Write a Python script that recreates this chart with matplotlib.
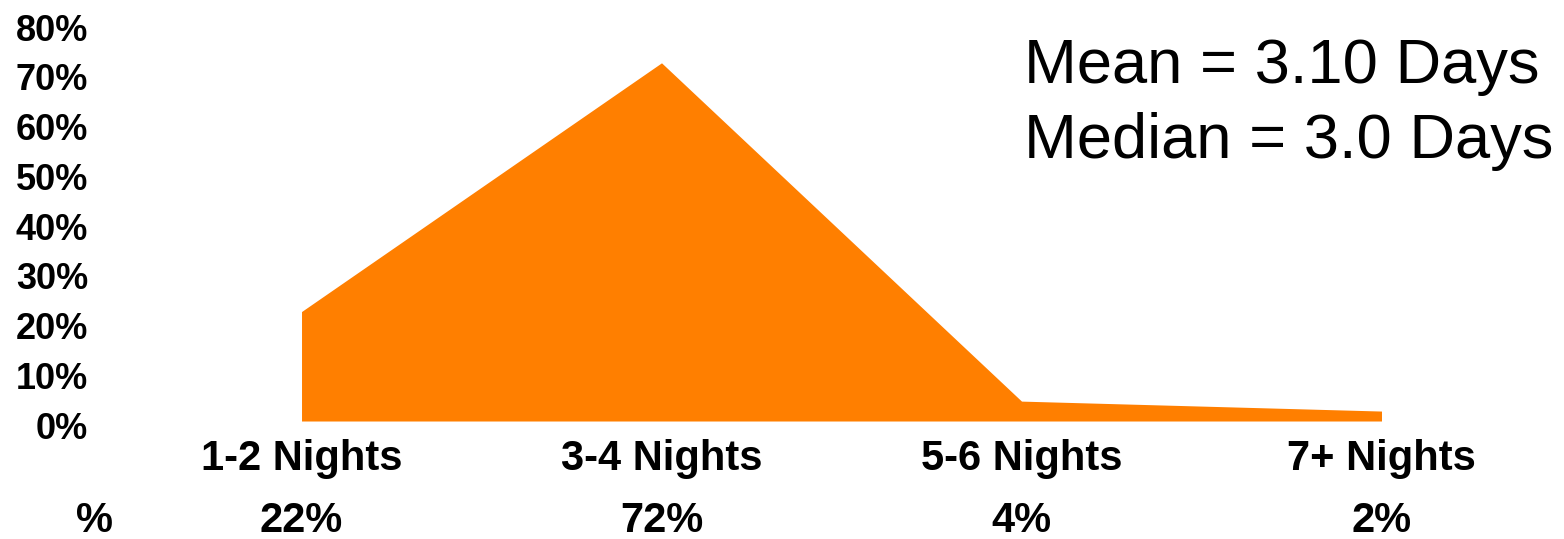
import numpy as np
import matplotlib.pyplot as plt
from matplotlib.transforms import blended_transform_factory, ScaledTranslation

# data
categories = ['1-2 Nights', '3-4 Nights', '5-6 Nights', '7+ Nights']
shares = [22, 72, 4, 2]
share_labels = ['22%', '72%', '4%', '2%']
y_ticks = [0, 10, 20, 30, 40, 50, 60, 70, 80]
stats_lines = ['Mean = 3.10 Days', 'Median = 3.0 Days']

plt.rcParams['font.family'] = ['Liberation Sans', 'DejaVu Sans']

fig = plt.figure(figsize=(15.64, 5.39), dpi=100)
fig.patch.set_facecolor('white')
ax = fig.add_axes([0.0777, 0.2189, 0.9207, 0.7384])

x = np.arange(len(categories))
ax.fill_between(x, shares, 0, color='#FF7F00', lw=0)

ax.set_xlim(-0.5, len(categories) - 0.5)
ax.set_ylim(0, 80)
for s in ax.spines.values():
    s.set_visible(False)

ax.set_yticks(y_ticks)
ax.set_yticklabels([f'{v}%' for v in y_ticks], fontsize=26, fontweight='bold')
ax.tick_params(axis='y', length=0, pad=24)
shift = ScaledTranslation(0, -4 / 100, fig.dpi_scale_trans)
for lab in ax.get_yticklabels():
    lab.set_transform(lab.get_transform() + shift)

ax.set_xticks(x)
ax.set_xticklabels(categories, fontsize=30, fontweight='bold')
ax.tick_params(axis='x', length=0, pad=13)

# percentage row under the categories
trans = blended_transform_factory(ax.transData, ax.transAxes)
for xi, lab in zip(x, share_labels):
    ax.text(xi, -0.25, lab, transform=trans, ha='center', va='center',
            fontsize=30, fontweight='bold')
ax.text(-0.574, -0.25, '%', transform=trans, ha='center', va='center',
        fontsize=30, fontweight='bold')

# mean / median box
fig.text(0.655, 0.876, stats_lines[0], fontsize=45.5, ha='left', va='center')
fig.text(0.655, 0.738, stats_lines[1], fontsize=45.5, ha='left', va='center')

fig.savefig('out.png', dpi=100)
